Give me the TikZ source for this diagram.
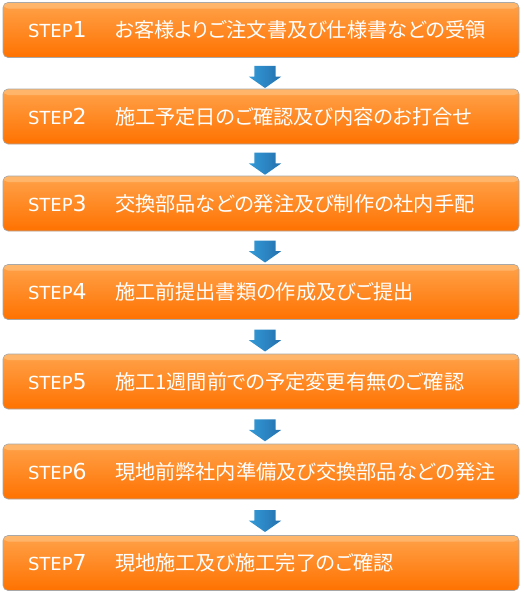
\documentclass[tikz,border=0pt]{standalone}
\usepackage{fontspec}
\usetikzlibrary{shapes.arrows}
\newfontfamily\jpfont[RawFeature=+palt]{Noto Sans CJK JP}
\newfontfamily\stepfont{DejaVu Sans}
\definecolor{stepTop}{HTML}{FFA24A}
\definecolor{stepBottom}{HTML}{FF7200}
\definecolor{stepBand}{HTML}{FFC07A}
\definecolor{stepLine}{HTML}{A8A8A8}
\definecolor{arrowTop}{HTML}{349BD8}
\definecolor{arrowBottom}{HTML}{2470AE}
% label of one step: number, then the text
\newcommand{\steplabel}[2]{\makebox[87pt][l]{\stepfont\fontsize{18}{20}\selectfont STEP\fontsize{22}{24}\selectfont #1}%
{\jpfont\fontsize{20.2}{24}\selectfont #2}}
\begin{document}
\begin{tikzpicture}[x=1pt, y=-1pt,
% common options for the step boxes:
stepbox/.style = {draw=stepLine, line width=0.6pt, rounded corners=5pt,
            top color=stepTop, bottom color=stepBottom, text=white,
            minimum width=516pt, minimum height=55pt, text width=466pt,
            align=left, inner xsep=25pt, yshift=-0.5pt,
            path picture={\fill[stepBand, opacity=0.7]
              (path picture bounding box.north west) rectangle
              ([yshift=-6pt]path picture bounding box.north east);}},
% common options for the arrows between steps:
flowarrow/.style = {single arrow, draw=none, xshift=4pt, rotate=-90,
            left color=arrowTop, right color=arrowBottom,
            minimum height=22pt, minimum width=32pt, inner xsep=0pt,
            inner ysep=10.5pt, single arrow head extend=5.5pt,
            single arrow tip angle=110, single arrow head indent=0pt}]
\useasboundingbox (0,0) rectangle (524,592);
\node[stepbox] (S1) at (261,29.5) {\steplabel{1}{お客様よりご注文書及び仕様書などの受領}};
\node[stepbox] (S2) at (261,116) {\steplabel{2}{施工予定日のご確認及び内容のお打合せ}};
\node[stepbox] (S3) at (261,203) {\steplabel{3}{交換部品などの発注及び制作の社内手配}};
\node[stepbox] (S4) at (261,291.5) {\steplabel{4}{施工前提出書類の作成及びご提出}};
\node[stepbox] (S5) at (261,381) {\steplabel{5}{施工1週間前での予定変更有無のご確認}};
\node[stepbox] (S6) at (261,471) {\steplabel{6}{現地前弊社内準備及び交換部品などの発注}};
\node[stepbox] (S7) at (261,562.5) {\steplabel{7}{現地施工及び施工完了のご確認}};
\path (S1) -- (S2) node[midway, flowarrow] (D1) {};
\path (S2) -- (S3) node[midway, flowarrow] (D2) {};
\path (S3) -- (S4) node[midway, flowarrow] (D3) {};
\path (S4) -- (S5) node[midway, flowarrow] (D4) {};
\path (S5) -- (S6) node[midway, flowarrow] (D5) {};
\path (S6) -- (S7) node[midway, flowarrow] (D6) {};
\end{tikzpicture}
\end{document}
